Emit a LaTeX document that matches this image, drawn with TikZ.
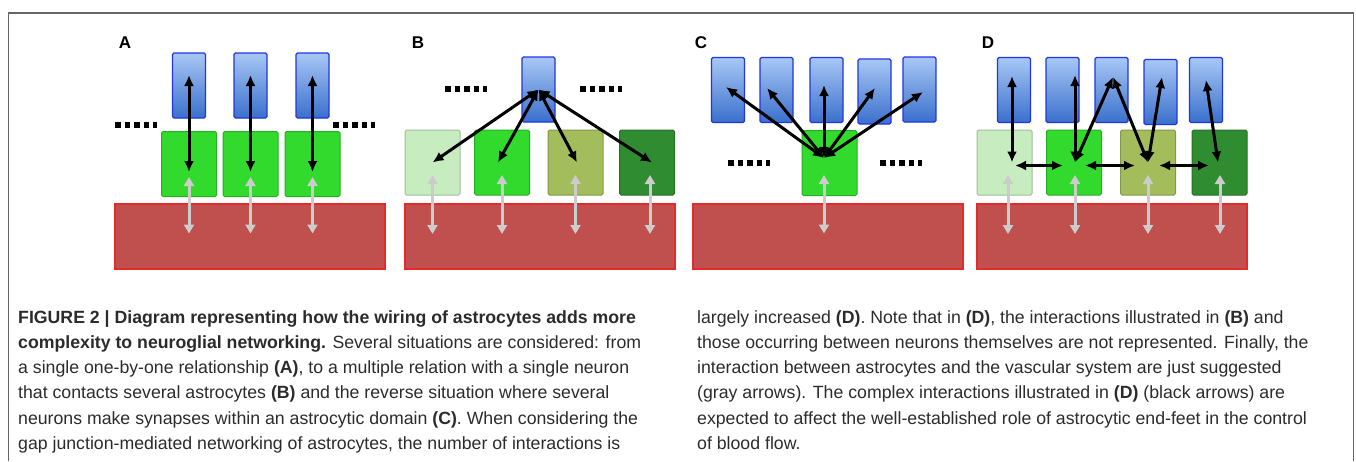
\documentclass[tikz,border=0pt]{standalone}
\usepackage{fontspec}
\setmainfont{Liberation Sans}
\usepackage{tikz}
\usetikzlibrary{arrows.meta,calc}
\definecolor{nrnlight}{HTML}{A8C7F5}
\definecolor{nrnblue}{HTML}{3A70CC}
\definecolor{nrnedge}{HTML}{2236E0}
\definecolor{astbright}{HTML}{31DA2C}
\definecolor{astlight}{HTML}{C7ECBF}
\definecolor{astolive}{HTML}{A3BD5D}
\definecolor{astdark}{HTML}{2F8C30}
\definecolor{vesselfill}{HTML}{C0504E}
\definecolor{vesseledge}{HTML}{E32B2B}
\definecolor{captgray}{HTML}{2B2B2B}

\begin{document}
\begin{tikzpicture}[x=1pt, y=-1pt,
    neuron/.style={draw=nrnedge, line width=1.2pt, rounded corners=1.5pt,
                   top color=nrnlight, bottom color=nrnblue,
                   minimum width=33pt, minimum height=65pt, inner sep=0pt},
    astro/.style={draw=#1!80!black, line width=1pt, rounded corners=1.5pt,
                  fill=#1, minimum width=55pt, minimum height=65pt, inner sep=0pt},
    astro/.default=astbright,
    vessel/.style={draw=vesseledge, line width=1.2pt, fill=vesselfill,
                   minimum width=270pt, minimum height=65pt, inner sep=0pt},
    lbl/.style={font=\bfseries\fontsize{17}{17}\selectfont, inner sep=0pt},
    capt/.style={anchor=base west, inner sep=0pt, text=captgray,
                 font=\fontsize{17.7}{20}\selectfont},
    blk/.style={{Latex[length=11pt,width=10pt]}-{Latex[length=11pt,width=10pt]},
                line width=3pt, black},
    gry/.style={{Triangle[length=9pt,width=10pt]}-{Triangle[length=9pt,width=10pt]},
                line width=3pt, black!20},
    dotrow/.style={line width=5.5pt, dash pattern=on 5.5pt off 4pt},
    frame/.style={draw=black!60, line width=1.2pt}
  ]
  \useasboundingbox (0,0) rectangle (1356,461);
  \draw[frame] (8.5,461) -- (8.5,13) -- (1353.5,13) -- (1353.5,461);

  % panel A
  \node[lbl] (labA) at (125,43) {A};
  \node[neuron] (nA1) at (189,85.5) {};
  \node[neuron] (nA2) at (250.5,85.5) {};
  \node[neuron] (nA3) at (312.5,85.5) {};
  \node[astro] (gA1) at (189,164) {};
  \node[astro] (gA2) at (250.5,164) {};
  \node[astro] (gA3) at (312.5,164) {};
  \node[vessel] (vA) at (250,236.5) {};
  \draw[dotrow] (115,125) -- (157,125);  \draw[dotrow] (333,125) -- (375,125);
  \draw[blk] ($(nA1.center)+(0,-10.5)$) -- ($(gA1.center)+(0,8)$);
  \draw[blk] ($(nA2.center)+(0,-10.5)$) -- ($(gA2.center)+(0,8)$);
  \draw[blk] ($(nA3.center)+(0,-10.5)$) -- ($(gA3.center)+(0,8)$);
  \draw[gry] ($(gA1.center)+(0,13)$) -- ($(gA1.center |- vA.center)+(0,-3)$);
  \draw[gry] ($(gA2.center)+(0,13)$) -- ($(gA2.center |- vA.center)+(0,-3)$);
  \draw[gry] ($(gA3.center)+(0,13)$) -- ($(gA3.center |- vA.center)+(0,-3)$);

  % panel B
  \node[lbl] (labB) at (418,43) {B};
  \node[neuron] (nB) at (538.5,89.5) {};
  \node[astro=astlight] (gB1) at (432.5,162.5) {};
  \node[astro] (gB2) at (502,162.5) {};
  \node[astro=astolive] (gB3) at (575.5,162.5) {};
  \node[astro=astdark] (gB4) at (647,162.5) {};
  \node[vessel] (vB) at (540,236.5) {};
  \draw[dotrow] (445,89) -- (487,89);  \draw[dotrow] (580,89) -- (622,89);
  \draw[blk] (nB.center) -- (gB1.center);
  \draw[blk] (nB.center) -- ($(gB2.center)+(-4,0)$);
  \draw[blk] (nB.center) -- ($(gB3.center)+(1.5,0)$);
  \draw[blk] (nB.center) -- ($(gB4.center)+(5,0)$);
  \draw[gry] ($(gB1.center)+(0,12.5)$) -- ($(gB1.center |- vB.center)+(0,-2.5)$);
  \draw[gry] ($(gB2.center)+(0,12.5)$) -- ($(gB2.center |- vB.center)+(0,-2.5)$);
  \draw[gry] ($(gB3.center)+(0,12.5)$) -- ($(gB3.center |- vB.center)+(0,-2.5)$);
  \draw[gry] ($(gB4.center)+(3,12.5)$) -- ($(gB4.center |- vB.center)+(3,-2.5)$);

  % panel C
  \node[lbl] (labC) at (701,43) {C};
  \node[neuron] (nC1) at (728,90) {};
  \node[neuron] (nC2) at (776.5,90) {};
  \node[neuron] (nC3) at (826.5,90) {};
  \node[neuron] (nC4) at (874.5,91.5) {};
  \node[neuron] (nC5) at (919.5,89.5) {};
  \node[astro] (gC) at (829.5,163) {};
  \node[vessel] (vC) at (828,236.5) {};
  \coordinate (hubC) at ($(gC.center)+(-5.5,-5)$);
  \draw[dotrow] (728,163) -- (770,163);  \draw[dotrow] (880,163) -- (922,163);
  \draw[blk] (hubC) -- ($(nC1.center)+(-2,-3)$);
  \draw[blk] (hubC) -- ($(nC2.center)+(-9.5,-2)$);
  \draw[blk] (hubC) -- ($(nC3.center)+(-2.5,-5)$);
  \draw[blk] (hubC) -- ($(nC4.center)+(0.5,-3.5)$);
  \draw[blk] (hubC) -- ($(nC5.center)+(3.5,2.5)$);
  \draw[gry] ($(hubC)+(0,17)$) -- ($(hubC |- vC.center)+(0,-3)$);

  % panel D
  \node[lbl] (labD) at (988,43) {D};
  \node[neuron] (nD1) at (1014,90) {};
  \node[neuron] (nD2) at (1062.5,90) {};
  \node[neuron] (nD3) at (1111.5,90) {};
  \node[neuron] (nD4) at (1160.5,92) {};
  \node[neuron] (nD5) at (1206,90) {};
  \node[astro=astlight] (gD1) at (1004.5,162.5) {};
  \node[astro] (gD2) at (1074,162.5) {};
  \node[astro=astolive] (gD3) at (1148,162.5) {};
  \node[astro=astdark] (gD4) at (1219.5,162.5) {};
  \node[vessel] (vD) at (1112,236.5) {};
  \coordinate (hD1) at ($(gD1.center)+(7.5,0)$);
  \coordinate (hD2) at ($(gD2.center)+(1,0)$);
  \coordinate (hD3) at (gD3.center);
  \coordinate (hD4) at ($(gD4.center)+(-1.5,0)$);
  \draw[blk] (hD1) -- ($(nD1.center)+(-2,-14)$);
  \draw[blk] (hD2) -- ($(nD2.center)+(12.5,-15)$);
  \draw[blk] (hD2) -- ($(nD3.center)+(1.5,-13)$);
  \draw[blk] (hD3) -- ($(nD3.center)+(1.5,-13)$);
  \draw[blk] (hD3) -- ($(nD4.center)+(1.5,-15)$);
  \draw[blk] (hD4) -- ($(nD5.center)+(0,-10)$);
  \draw[blk] ($(hD1)+(3,3)$) -- ($(hD2)+(-12,3)$);
  \draw[blk] ($(hD2)+(10,3)$) -- ($(hD3)+(-13,3)$);
  \draw[blk] ($(hD3)+(11,3)$) -- ($(hD4)+(-9,3)$);
  \draw[gry] ($(gD1.center)+(3.5,12.5)$) -- ($(gD1.center |- vD.center)+(3.5,-2.5)$);
  \draw[gry] ($(gD2.center)+(1,12.5)$) -- ($(gD2.center |- vD.center)+(1,-2.5)$);
  \draw[gry] ($(gD3.center)+(0,12.5)$) -- ($(gD3.center |- vD.center)+(0,-2.5)$);
  \draw[gry] ($(gD4.center)+(0.5,12.5)$) -- ($(gD4.center |- vD.center)+(0.5,-2.5)$);

  % caption, left column
  \node[capt] (capL1) at (18,323) {\bfseries FIGURE 2 | Diagram representing how the wiring of astrocytes adds more};
  \node[capt] (capL2) at (18,348.3) {\textbf{complexity to neuroglial networking.} Several situations are considered: from};
  \node[capt] (capL3) at (18,373.6) {a single one-by-one relationship \textbf{(A)}, to a multiple relation with a single neuron};
  \node[capt] (capL4) at (18,398.9) {that contacts several astrocytes \textbf{(B)} and the reverse situation where several};
  \node[capt] (capL5) at (18,424.2) {neurons make synapses within an astrocytic domain \textbf{(C)}. When considering the};
  \node[capt] (capL6) at (18,449.5) {gap junction-mediated networking of astrocytes, the number of interactions is};
  % caption, right column
  \node[capt] (capR1) at (697,323) {largely increased \textbf{(D)}. Note that in \textbf{(D)}, the interactions illustrated in \textbf{(B)} and};
  \node[capt] (capR2) at (697,348.3) {those occurring between neurons themselves are not represented. Finally, the};
  \node[capt] (capR3) at (697,373.6) {interaction between astrocytes and the vascular system are just suggested};
  \node[capt] (capR4) at (697,398.9) {(gray arrows). The complex interactions illustrated in \textbf{(D)} (black arrows) are};
  \node[capt] (capR5) at (697,424.2) {expected to affect the well-established role of astrocytic end-feet in the control};
  \node[capt] (capR6) at (697,449.5) {of blood flow.};
\end{tikzpicture}
\end{document}
